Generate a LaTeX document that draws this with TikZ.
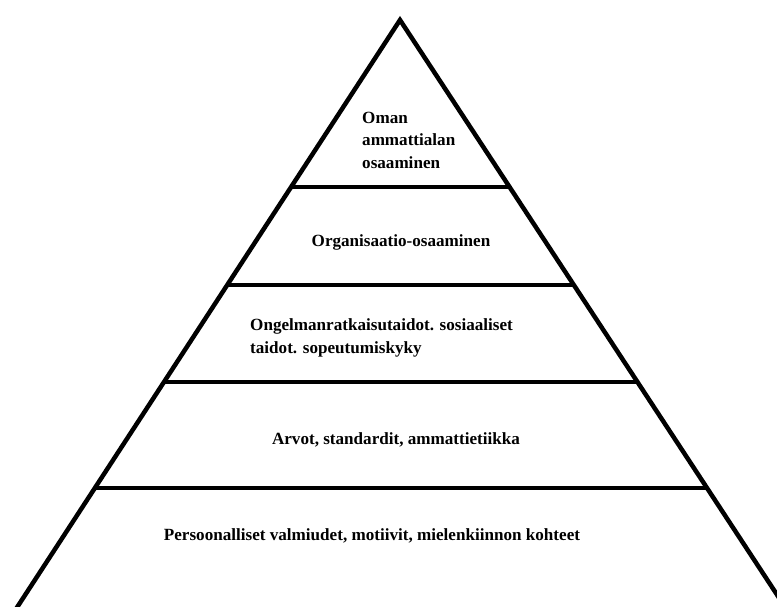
\documentclass[tikz,border=0pt]{standalone}
\usepackage{fontspec}
\setmainfont{Liberation Serif}
\begin{document}
\begin{tikzpicture}[x=1pt,y=-1pt,
  edge/.style={line width=4.5pt,line join=miter,line cap=butt,black},
  label/.style={font=\bfseries\fontsize{17.1}{22.5}\selectfont,text=black,inner sep=0pt}]
\useasboundingbox (0,0) rectangle (777,606);
\clip (0,0) rectangle (777,606);
% sides
\coordinate (apex) at (400,20);
\coordinate (bl) at (400-0.652*610,630);
\coordinate (br) at (400+0.656*610,630);
\draw[edge] (bl) -- (apex) -- (br);
% level lines
\foreach \y in {187,285,382,488}{
  \draw[edge] ({400-0.652*(\y-20)},\y) -- ({400+0.656*(\y-20)},\y);
}
% labels
\node[label,align=left,anchor=west] (t1) at (362,140) {Oman\\ammattialan\\osaaminen};
\node[label] (t2) at (401,242) {Organisaatio-osaaminen};
\node[label,align=left,anchor=west] (t3) at (250,338) {Ongelmanratkaisutaidot. sosiaaliset\\taidot. sopeutumiskyky};
\node[label] (t4) at (396,440) {Arvot, standardit, ammattietiikka};
\node[label] (t5) at (372,536) {Persoonalliset valmiudet, motiivit, mielenkiinnon kohteet};
\end{tikzpicture}
\end{document}
